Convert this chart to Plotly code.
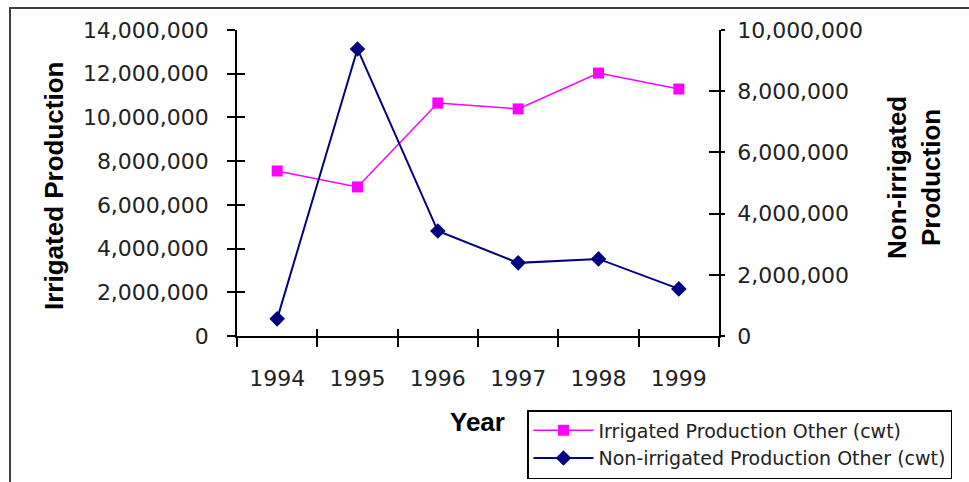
import plotly.graph_objects as go

# Production by year (cwt)
years = ["1994", "1995", "1996", "1997", "1998", "1999"]
irrigated = [7550000, 6820000, 10660000, 10390000, 12030000, 11300000]
non_irrigated = [560000, 9380000, 3430000, 2390000, 2520000, 1540000]

left_ticks = [0, 2000000, 4000000, 6000000, 8000000, 10000000, 12000000, 14000000]
right_ticks = [0, 2000000, 4000000, 6000000, 8000000, 10000000]

W, H = 969, 482
L, R, T, B = 237, 250, 30, 146
PW, PH = W - L - R, H - T - B


def px_x(px):
    return (px - L) / PW


def px_y(py):
    return (H - B - py) / PH


TICK_FONT = dict(family="DejaVu Sans", size=22, color="#222222")
TITLE_FONT = dict(family="Liberation Sans", size=26, color="#000000")

fig = go.Figure()

fig.add_trace(go.Scatter(
    x=years, y=irrigated, name="Irrigated Production Other (cwt)",
    mode="lines+markers", xaxis="x", yaxis="y",
    line=dict(color="#FF00FF", width=1.5),
    marker=dict(symbol="square", size=11, color="#FF00FF"),
))
fig.add_trace(go.Scatter(
    x=years, y=non_irrigated, name="Non-irrigated Production Other (cwt)",
    mode="lines+markers", xaxis="x", yaxis="y2",
    line=dict(color="#000080", width=2),
    marker=dict(symbol="diamond", size=12, color="#000080"),
))

# transparent copies so the overlay axes (inner halves of the crossing ticks) get drawn
fig.add_trace(go.Scatter(x=years, y=irrigated, xaxis="x2", yaxis="y3",
                         mode="markers", marker=dict(opacity=0),
                         showlegend=False, hoverinfo="skip"))
fig.add_trace(go.Scatter(x=years, y=non_irrigated, xaxis="x2", yaxis="y4",
                         mode="markers", marker=dict(opacity=0),
                         showlegend=False, hoverinfo="skip"))

axis_common = dict(showgrid=False, zeroline=False, showline=True,
                   linecolor="#000000", linewidth=1.5, tickcolor="#000000",
                   tickwidth=1.5, automargin=False)

fig.update_layout(
    width=W, height=H,
    margin=dict(l=L, r=R, t=T, b=B, autoexpand=False),
    paper_bgcolor="#FFFFFF", plot_bgcolor="#FFFFFF",
    showlegend=True,
    xaxis=dict(type="category", categoryorder="array", categoryarray=years,
               range=[-0.5, len(years) - 0.5], tickson="boundaries",
               ticks="outside", ticklen=9, tickfont=TICK_FONT,
               ticklabelstandoff=22, **axis_common),
    xaxis2=dict(type="category", categoryorder="array", categoryarray=years,
                overlaying="x", anchor="y3", side="bottom",
                range=[-0.5, len(years) - 0.5], tickson="boundaries",
                ticks="inside", ticklen=7, showticklabels=False,
                **axis_common),
    yaxis=dict(range=[0, 14000000], tickvals=left_ticks, tickformat=",d",
               ticks="outside", ticklen=8, tickfont=TICK_FONT,
               ticklabelstandoff=14, **axis_common),
    yaxis2=dict(overlaying="y", anchor="x", side="right",
                range=[0, 10000000], tickvals=right_ticks, tickformat=",d",
                ticks="outside", ticklen=4, tickfont=TICK_FONT,
                ticklabelstandoff=8, **axis_common),
    yaxis3=dict(overlaying="y", anchor="x2", side="left",
                range=[0, 14000000], tickvals=left_ticks, ticks="inside",
                ticklen=8, showticklabels=False, **axis_common),
    yaxis4=dict(overlaying="y", anchor="x2", side="right",
                range=[0, 10000000], tickvals=right_ticks, ticks="inside",
                ticklen=10, showticklabels=False, **axis_common),
    legend=dict(x=px_x(527), y=px_y(410), xanchor="left", yanchor="top",
                bgcolor="#FFFFFF", bordercolor="#000000", borderwidth=1.5,
                font=dict(family="DejaVu Sans", size=19, color="#222222"),
                tracegroupgap=0, itemwidth=60),
    font=dict(family="DejaVu Sans"),
)

# chart area frame
fig.add_shape(type="rect", xref="paper", yref="paper",
              x0=px_x(10), x1=px_x(990), y0=px_y(500), y1=px_y(8),
              line=dict(color="#404040", width=2), fillcolor="rgba(0,0,0,0)",
              layer="below")

fig.add_annotation(text="<b>Irrigated Production</b>", xref="paper", yref="paper",
                   x=px_x(54), y=px_y(186), textangle=-90, showarrow=False,
                   font=TITLE_FONT, xanchor="center", yanchor="middle")
fig.add_annotation(text="<b>Non-irrigated<br>Production</b>", xref="paper", yref="paper",
                   x=px_x(914), y=px_y(178), textangle=-90, showarrow=False,
                   font=TITLE_FONT, xanchor="center", yanchor="middle")
fig.add_annotation(text="<b>Year</b>", xref="paper", yref="paper",
                   x=px_x(477), y=px_y(422), showarrow=False,
                   font=TITLE_FONT, xanchor="center", yanchor="middle")

fig.write_html("out.html")
